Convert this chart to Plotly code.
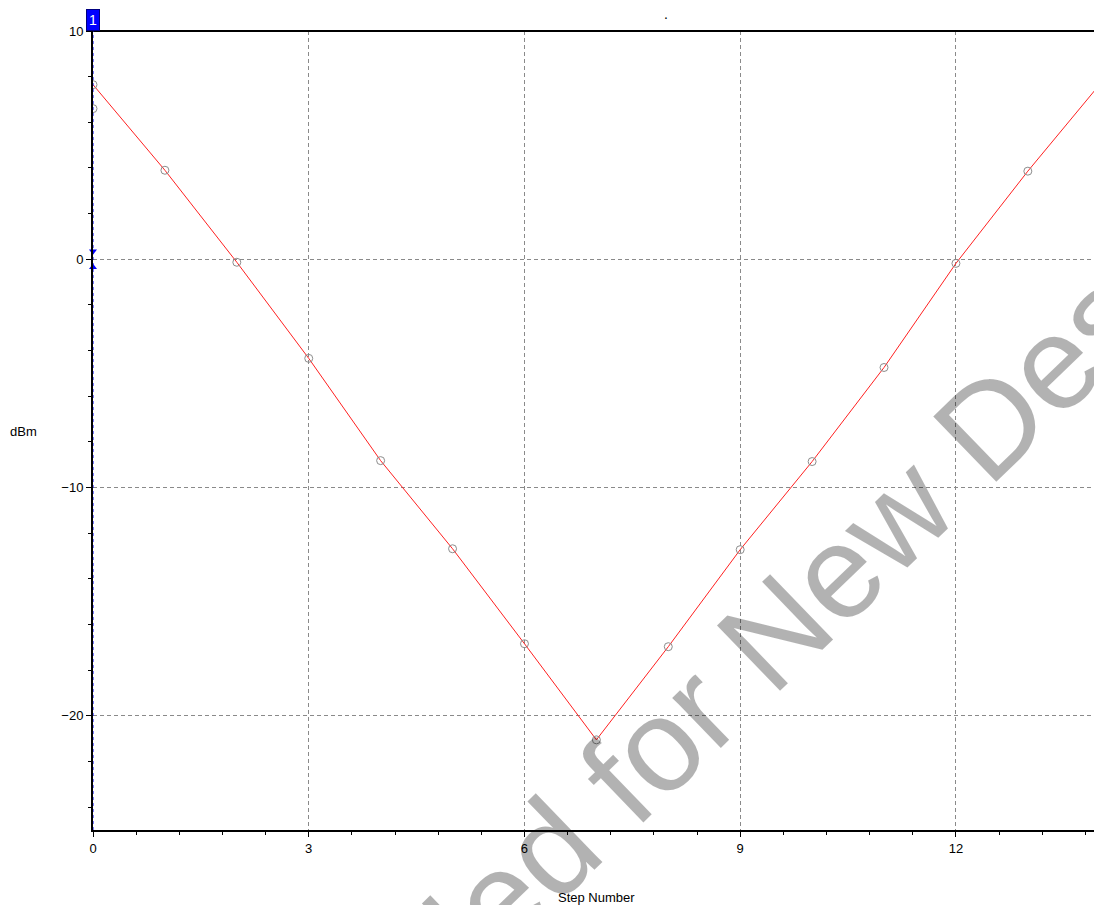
import plotly.graph_objects as go

# ---- data ----
step = [0, 1, 2, 3, 4, 5, 6, 7, 8, 9, 10, 11, 12, 13, 14]
dbm = [7.65, 3.9, -0.13, -4.34, -8.82, -12.68, -16.84, -21.05, -16.97, -12.72, -8.86, -4.74, -0.18, 3.86, 7.66]
extra_step = [0]
extra_dbm = [6.6]
marker_step = [0, 0]
marker_dbm = [0.35, -0.35]
x_ticks = [0, 3, 6, 9, 12]
y_ticks = [10, 0, -10, -20]

fig = go.Figure()
fig.add_trace(go.Scatter(x=step, y=dbm, mode="lines+markers",
                         line=dict(color="#ff2020", width=1),
                         marker=dict(symbol="circle-open", size=8, color="#8c8c8c", line=dict(width=1)),
                         showlegend=False))
fig.add_trace(go.Scatter(x=extra_step, y=extra_dbm, mode="markers",
                         marker=dict(symbol="circle-open", size=8, color="#8c8c8c", line=dict(width=1)),
                         showlegend=False))
fig.add_trace(go.Scatter(x=marker_step, y=marker_dbm, mode="markers", cliponaxis=False,
                         marker=dict(symbol=["triangle-down", "triangle-up"], size=7, color="#0000ff"),
                         showlegend=False))

fig.update_layout(
    width=1094, height=905,
    margin=dict(l=93, r=0, t=31, b=75),
    plot_bgcolor="white", paper_bgcolor="white",
    font=dict(family="Liberation Sans, Arial, sans-serif", size=13, color="black"),
    xaxis=dict(range=[0, 13.92], tickvals=x_ticks, ticks="outside", ticklen=5, tickcolor="black",
               showline=True, linecolor="black", linewidth=2, zeroline=False,
               showgrid=True, gridcolor="#8a8a8a", gridwidth=1, griddash="4px,3px",
               minor=dict(dtick=0.6, tick0=0, ticks="outside", ticklen=3, tickcolor="black", showgrid=False),
               tickfont=dict(size=13)),
    yaxis=dict(range=[-25, 10], tickvals=y_ticks, ticks="outside", ticklen=5, tickcolor="black",
               showline=True, linecolor="black", linewidth=2, zeroline=False,
               showgrid=True, gridcolor="#8a8a8a", gridwidth=1, griddash="4px,3px",
               minor=dict(dtick=2, tick0=0, ticks="outside", ticklen=3, tickcolor="black", showgrid=False),
               tickfont=dict(size=13)),
    shapes=[
        dict(type="line", xref="paper", yref="paper", x0=0, x1=1, y0=1, y1=1,
             line=dict(color="black", width=2)),
        dict(type="line", xref="x", yref="paper", x0=0, x1=0, y0=0, y1=1,
             line=dict(color="#0000ff", width=1, dash="3px,3px")),
    ],
    annotations=[
        dict(text="Step Number", xref="paper", yref="paper", x=(596 - 93) / 1001, y=(830 - 897) / 799,
             showarrow=False, xanchor="center", yanchor="middle", font=dict(size=13)),
        dict(text="dBm", xref="paper", yref="paper", x=(23 - 93) / 1001, y=(830 - 432) / 799,
             showarrow=False, xanchor="center", yanchor="middle", font=dict(size=13)),
        dict(text="1", xref="x", yref="paper", x=0, y=1, yanchor="bottom", xanchor="center",
             showarrow=False, bgcolor="#0000ff", bordercolor="#000080", borderwidth=1, borderpad=2,
             font=dict(color="white", size=14)),
        dict(text=".", xref="paper", yref="paper", x=(666 - 93) / 1001, y=(830 - 4) / 799,
             showarrow=False, font=dict(size=14, color="black")),
        dict(text="Not Recommended for New Designs", xref="paper", yref="paper",
             x=(529 - 93) / 1001, y=(830 - 869) / 799, xanchor="center", yanchor="middle",
             showarrow=False, textangle=-44,
             font=dict(size=132, color="rgba(0,0,0,0.3)", family="Liberation Sans, Arial, sans-serif")),
    ],
)

fig.write_html("out.html", config={"displayModeBar": False},
               post_script="document.body.style.margin='0';document.body.style.overflow='hidden';")
